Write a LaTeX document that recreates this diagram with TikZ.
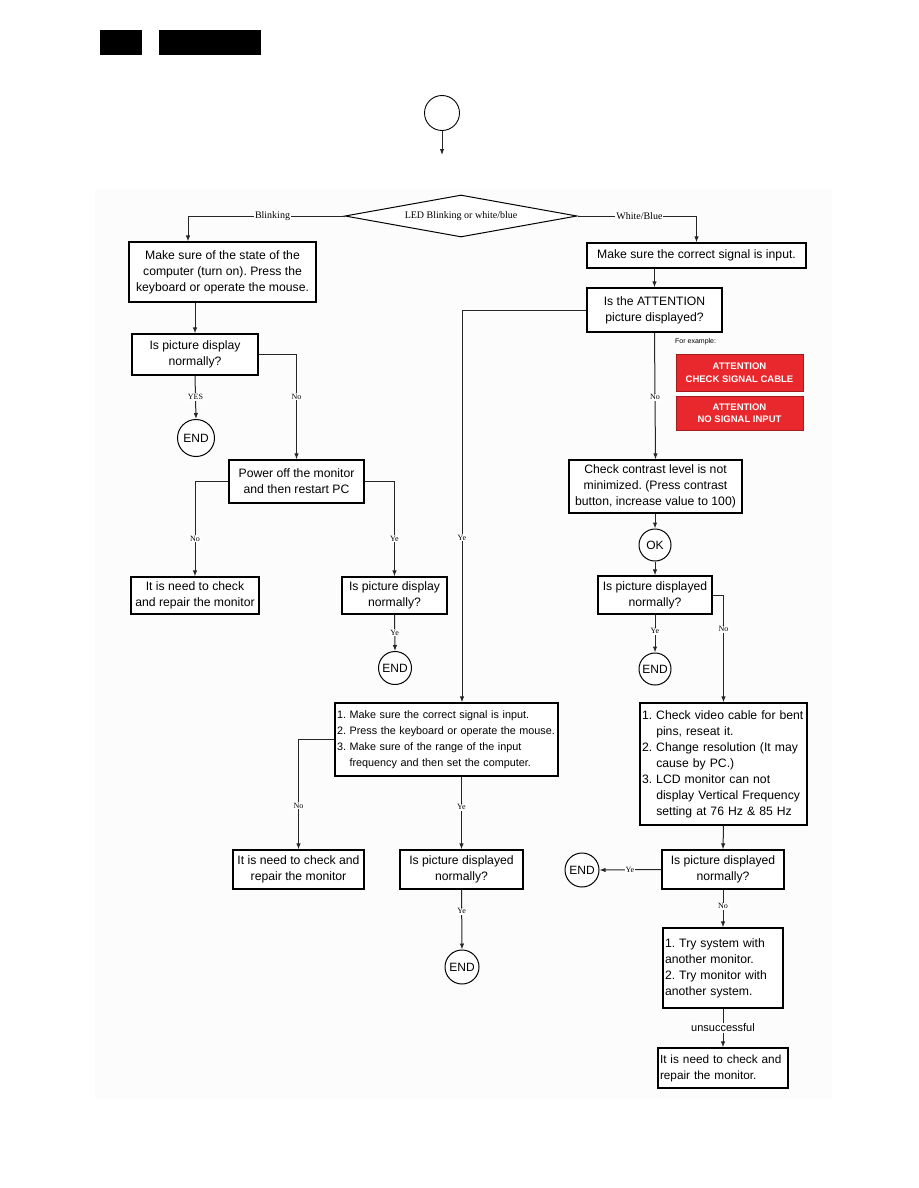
\documentclass[tikz,border=0pt]{standalone}
\usepackage{fontspec}
\setmainfont{Liberation Serif}
\setsansfont{Liberation Sans}
\usetikzlibrary{shapes.geometric,arrows.meta}
\definecolor{attred}{RGB}{232,40,44}
\frenchspacing
\begin{document}
\begin{tikzpicture}[x=1pt,y=-1pt,
  box/.style={draw, line width=1.25pt, fill=white, inner sep=2pt, align=center,
    font=\sffamily\fontsize{12.2}{16}\selectfont},
  lbox/.style={box, align=left},
  redbox/.style={draw=attred!70!black, line width=0.6pt, fill=attred, text=white, align=center,
    inner sep=1pt, font=\sffamily\bfseries\fontsize{9.5}{12.5}\selectfont},
  conn/.style={line width=1pt, draw=black!85},
  arr/.style={conn, -{Latex[length=6pt,width=4.5pt]}},
  lbl/.style={fill=white, inner sep=1pt, text=black, font=\rmfamily\fontsize{8}{8}\selectfont},
  blbl/.style={lbl, font=\rmfamily\fontsize{10}{10}\selectfont},
  endc/.style={circle, draw, line width=1pt, fill=white, inner sep=0pt,
    font=\sffamily\fontsize{12}{12}\selectfont},
]
\useasboundingbox (0,0) rectangle (918,1188);
\fill[white] (0,0) rectangle (918,1188);
\fill[black!1.2] (95,190) rectangle (832,1098);

% header
\node[fill=black, minimum width=42pt, minimum height=25pt, inner sep=0pt] (hdrA) at (121,42.5) {};
\node[fill=black, minimum width=102pt, minimum height=25pt, inner sep=0pt] (hdrB) at (210,42.5) {};

% start connector circle
\node[circle, draw, line width=0.9pt, minimum size=35pt, inner sep=0pt] (start) at (442,113) {};
\coordinate (startend) at (442,155);
\draw[arr] (start.south) -- (startend);

% decision diamond
\node[diamond, draw, line width=1pt, fill=white, shape aspect=5.5, minimum width=232pt, minimum height=42pt,
  inner sep=0pt, font=\rmfamily\fontsize{10}{10}\selectfont] (dia) at (461,216) {LED Blinking or white/blue};

% left column
\node[box, minimum width=187pt, minimum height=60pt] (b1) at (222.5,272)
  {Make sure of the state of the\\computer (turn on). Press the\\keyboard or operate the mouse.};
\node[box, minimum width=126pt, minimum height=41pt] (b2) at (195,354.5) {Is picture display\\normally?};
\node[endc, minimum size=37pt] (end1) at (196,438) {END};
\node[box, minimum width=135pt, minimum height=43pt] (b3) at (296.5,481.5) {Power off the monitor\\and then restart PC};
\node[box, minimum width=128pt, minimum height=37pt] (b4) at (195,595.5) {It is need to check\\and repair the monitor};
\node[box, minimum width=105pt, minimum height=37pt] (b5) at (394.5,595.5) {Is picture display\\normally?};
\node[endc, minimum size=33pt] (end2) at (395,668) {END};

% right column
\node[box, minimum width=219pt, minimum height=25pt] (r1) at (696.5,255.5) {Make sure the correct signal is input.};
\node[box, minimum width=135pt, minimum height=44pt] (r2) at (654.5,310) {Is the ATTENTION\\picture displayed?};
\node[anchor=west, inner sep=0pt, font=\sffamily\fontsize{7}{7}\selectfont] (ex) at (675,342) {For example:};
\node[redbox, minimum width=127pt, minimum height=37pt] (red1) at (739.5,372.5) {ATTENTION\\CHECK SIGNAL CABLE};
\node[redbox, minimum width=127pt, minimum height=34pt] (red2) at (739.5,413) {ATTENTION\\NO SIGNAL INPUT};
\node[box, minimum width=173pt, minimum height=53pt] (r3) at (655.5,486.5)
  {Check contrast level is not\\minimized. (Press contrast\\button, increase value to 100)};
\node[endc, minimum size=32pt] (ok) at (655,545) {OK};
\node[box, minimum width=114pt, minimum height=38pt] (r4) at (655,595) {Is picture displayed\\normally?};
\node[endc, minimum size=32pt] (end3) at (655,669) {END};
\node[lbox, text width=163pt, minimum height=122pt] (r5) at (723.5,764)
  {1. Check video cable for bent\\\phantom{1. }pins, reseat it.\\2. Change resolution (It may\\\phantom{2. }cause by PC.)\\3. LCD monitor can not\\\phantom{3. }display Vertical Frequency\\\phantom{3. }setting at 76 Hz \& 85 Hz};
\node[box, minimum width=122pt, minimum height=39pt] (r6) at (723,869.5) {Is picture displayed\\normally?};
\node[endc, minimum size=34pt] (end4) at (582,870) {END};
\node[lbox, text width=116pt, minimum height=80pt] (r7) at (723,968)
  {1. Try system with\\another monitor.\\2. Try monitor with\\another system.};
\node[lbox, text width=126pt, minimum height=40pt, font=\sffamily\fontsize{11.8}{16}\selectfont] (r8) at (723,1068)
  {It is need to check and\\repair the monitor.};

% middle
\node[lbox, text width=219pt, minimum height=73pt, font=\sffamily\fontsize{10.8}{16}\selectfont] (m1) at (446.5,739.5)
  {1. Make sure the correct signal is input.\\2. Press the keyboard or operate the mouse.\\3. Make sure of the range of the input\\\phantom{3. }frequency and then set the computer.};
\node[box, minimum width=131pt, minimum height=39pt] (m2) at (298.5,869.5) {It is need to check and\\repair the monitor};
\node[box, minimum width=123pt, minimum height=39pt] (m3) at (461.5,869.5) {Is picture displayed\\normally?};
\node[endc, minimum size=34pt] (end5) at (462,967) {END};

% connectors
\draw[arr] (dia.west) -| node[blbl, pos=0.23] {Blinking} ([xshift=-34.5pt]b1.north);
\draw[arr] (dia.east) -| node[blbl, pos=0.26] {White/Blue} (r1.north);
\draw[arr] (b1.south -| b2.north) -- (b2.north);
\draw[arr] (b2.east) -| node[lbl, pos=0.7] {No} (b3.north);
\draw[arr] (b2.south) -- node[lbl, pos=0.49] {YES} (end1.north);
\draw[arr] (b3.west) -| node[lbl, pos=0.8] {No} (b4.north);
\draw[arr] (b3.east) -| node[lbl, pos=0.8] {Ye} (b5.north);
\draw[arr] (b5.south) -- node[lbl, pos=0.49] {Ye} (end2.north);

\draw[arr] (r1.south -| r2.north) -- (r2.north);
\draw[arr] (r2.west) -| node[lbl, pos=0.79] {Ye} ([xshift=15.5pt]m1.north);
\draw[arr] (r2.south) -- node[lbl, pos=0.51] {No} (r3.north);
\draw[arr] (r3.south -| ok.north) -- (ok.north);
\draw[arr] (ok.south) -- (r4.north);
\draw[arr] (r4.south) -- node[lbl, pos=0.44] {Ye} (end3.north);
\draw[arr] (r4.east) -| node[lbl, pos=0.66] {No} (r5.north);
\draw[arr] (r5.south) -- (r6.north);
\draw[arr] (r6.west) -- node[lbl, pos=0.51] {Ye} (end4.east);
\draw[arr] (r6.south) -- node[lbl, pos=0.44] {No} (r7.north);
\draw[arr] (r7.south) -- node[lbl, pos=0.5, font=\sffamily\fontsize{11}{11}\selectfont] {unsuccessful} (r8.north);

\draw[arr] (m1.west) -| node[lbl, pos=0.8] {No} (m2.north);
\draw[arr] (m3.north |- m1.south) -- node[lbl, pos=0.42] {Ye} (m3.north);
\draw[arr] (m3.south) -- node[lbl, pos=0.36] {Ye} (end5.north);
\end{tikzpicture}
\end{document}
